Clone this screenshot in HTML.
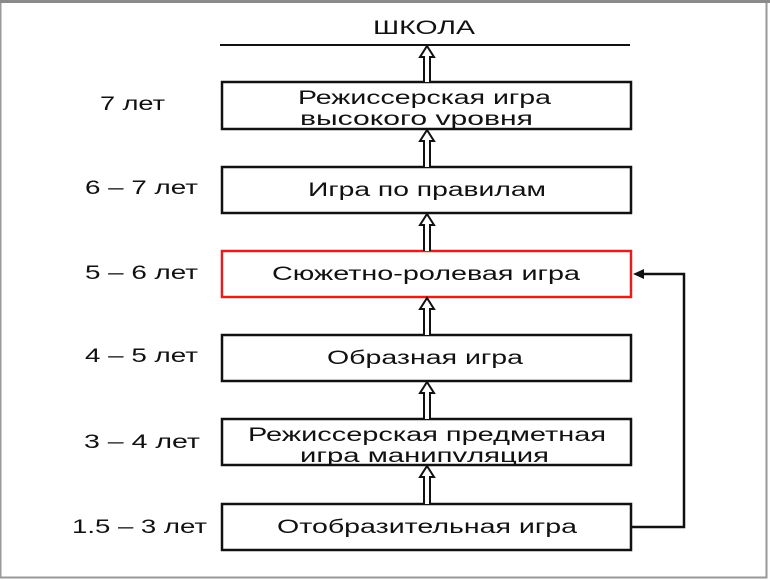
<!DOCTYPE html>
<html><head><meta charset="utf-8"><style>
body{margin:0;background:#fff;}
svg{display:block;}
text{font-family:"Liberation Sans",sans-serif;font-size:19px;fill:#111;}
</style></head><body>
<svg width="770" height="580" viewBox="0 0 770 580">
<rect x="0" y="0" width="770" height="580" fill="#fff"/>
<rect x="0.5" y="1.5" width="766" height="576" fill="none" stroke="#999" stroke-width="2"/>
<rect x="0" y="0" width="770" height="3" fill="#8a8a8a"/>
<text x="373" y="34" textLength="102" lengthAdjust="spacingAndGlyphs" font-size="20">ШКОЛА</text>
<line x1="220" y1="45" x2="630" y2="45" stroke="#111" stroke-width="2"/>
<g fill="#fff" stroke="#111" stroke-width="2.5">
<rect x="222" y="82" width="409" height="47"/>
<rect x="222" y="167" width="409" height="46"/>
<rect x="222" y="335" width="409" height="46"/>
<rect x="222" y="419" width="409" height="46"/>
<rect x="222" y="504" width="409" height="46"/>
</g>
<rect x="222" y="251" width="409" height="46" fill="#fff" stroke="#e02020" stroke-width="2.5"/>
<g lengthAdjust="spacingAndGlyphs">
<text x="298" y="104" textLength="253" lengthAdjust="spacingAndGlyphs">Режиссерская игра</text>
<text x="300" y="125" textLength="233" lengthAdjust="spacingAndGlyphs">высокого vpовня</text>
<text x="308" y="196" textLength="238" lengthAdjust="spacingAndGlyphs">Игра по правилам</text>
<text x="272" y="280" textLength="308" lengthAdjust="spacingAndGlyphs">Сюжетно-ролевая игра</text>
<text x="327" y="364" textLength="196" lengthAdjust="spacingAndGlyphs">Образная игра</text>
<text x="248" y="441" textLength="358" lengthAdjust="spacingAndGlyphs">Режиссерская предметная</text>
<text x="300" y="462" textLength="249" lengthAdjust="spacingAndGlyphs">игра манипvляция</text>
<text x="277" y="533" textLength="300" lengthAdjust="spacingAndGlyphs">Отобразительная игра</text>
<text x="100" y="110" textLength="65" lengthAdjust="spacingAndGlyphs">7 лет</text>
<text x="85" y="194" textLength="113" lengthAdjust="spacingAndGlyphs">6 – 7 лет</text>
<text x="85" y="279" textLength="113" lengthAdjust="spacingAndGlyphs">5 – 6 лет</text>
<text x="85" y="362" textLength="113" lengthAdjust="spacingAndGlyphs">4 – 5 лет</text>
<text x="84" y="448" textLength="116" lengthAdjust="spacingAndGlyphs">3 – 4 лет</text>
<text x="72" y="533" textLength="135" lengthAdjust="spacingAndGlyphs">1.5 – 3 лет</text>
</g>
<g fill="#fff" stroke="#111" stroke-width="2">
<path d="M424 82 V57 H420 L427 46 L434 57 H430 V82"/>
<path d="M424 167 V141 H420 L427 130 L434 141 H430 V167"/>
<path d="M424 251 V225 H420 L427 214 L434 225 H430 V251"/>
<path d="M424 335 V309 H420 L427 298 L434 309 H430 V335"/>
<path d="M424 419 V393 H420 L427 382 L434 393 H430 V419"/>
<path d="M424 504 V477 H420 L427 466 L434 477 H430 V504"/>
</g>
<polyline points="632,527 684,527 684,274 642,274" fill="none" stroke="#111" stroke-width="2.5"/>
<path d="M633 274 L644 269 L644 279 Z" fill="#111"/>
</svg>
</body></html>
